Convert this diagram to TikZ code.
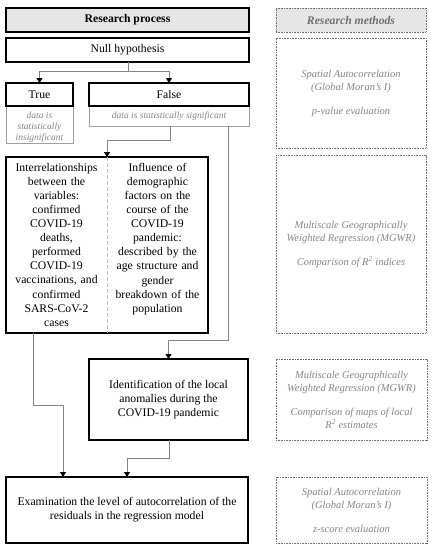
\documentclass[tikz,border=0pt]{standalone}
\usepackage{fontspec}
\setmainfont{Liberation Serif}
\usetikzlibrary{arrows.meta}
\definecolor{conngray}{HTML}{858585}
\definecolor{subgray}{HTML}{A0A0A0}
\definecolor{txtgray}{HTML}{858585}
\definecolor{dotgray}{HTML}{707070}
\definecolor{hdrfill}{HTML}{E6E6E6}
\begin{document}
\begin{tikzpicture}[x=1pt,y=-1pt,
  base/.style={rectangle, inner sep=0pt, outer sep=0pt, align=center},
  mainbox/.style={base, draw=black, line width=1.2pt, font=\fontsize{11.7}{14.1}\selectfont},
  subbox/.style={base, draw=subgray, line width=0.8pt},
  gtext/.style={base, text=txtgray, font=\fontsize{9.5}{11}\selectfont\itshape},
  methbox/.style={base, draw=dotgray, line width=0.8pt, dash pattern=on 0.8pt off 0.8pt, text=txtgray, font=\fontsize{10.5}{13}\selectfont\itshape},
  bigtext/.style={base, anchor=north, text width=100pt, font=\fontsize{11.7}{14.1}\selectfont},
  conn/.style={draw=conngray, line width=0.8pt},
  arr/.style={conn, -{Triangle[length=5pt,width=6pt,color=black]}}
]
\useasboundingbox (0,0) rectangle (432,550);

% left column
\node[mainbox, fill=hdrfill, minimum width=243pt, minimum height=24pt, font=\fontsize{11.7}{14.1}\selectfont\bfseries] (rp) at (127.5,20) {Research process};
\node[mainbox, minimum width=243pt, minimum height=24pt] (null) at (127.5,50) {Null hypothesis};

\node[subbox, minimum width=67pt, minimum height=37pt] (tsub) at (39.5,124.5) {};
\node[gtext] (ttxt) at (39.5,127.5) {data is\\statistically\\insignificant};
\node[mainbox, minimum width=67pt, minimum height=23pt] (true) at (39.5,94.5) {True};

\node[subbox, minimum width=160pt, minimum height=20pt] (fsub) at (169,116) {};
\node[gtext] (ftxt) at (169,116.5) {data is statistically significant};
\node[mainbox, minimum width=160pt, minimum height=23pt] (false) at (169,94.5) {False};

\node[mainbox, line width=1.5pt, minimum width=202pt, minimum height=176pt] (big) at (107,245) {};
\draw[draw=black!25, line width=0.8pt, dash pattern=on 4pt off 2pt] (big.north) -- (big.south);
\node[bigtext] (ltxt) at (56.5,163) {Interrelationships\\between the\\variables:\\confirmed\\COVID-19\\deaths,\\performed\\COVID-19\\vaccinations, and\\confirmed\\SARS-CoV-2\\cases};
\node[bigtext] (rtxt) at (157.5,163) {Influence of\\demographic\\factors on the\\course of the\\COVID-19\\pandemic:\\described by the\\age structure and\\gender\\breakdown of the\\population};

\node[mainbox, minimum width=159pt, minimum height=81pt] (ident) at (168.5,399.5) {Identification of the local\\anomalies during the\\COVID-19 pandemic};
\node[mainbox, minimum width=242pt, minimum height=66pt] (exam) at (127,510) {Examination the level of autocorrelation of the\\residuals in the regression model};

% connectors
\coordinate (j1) at (128,71);
\draw[conn] (null.south -| j1) -- (j1);
\draw[arr] (j1) -| (true.north);
\draw[arr] (j1) -| (false.north);

\coordinate (c1) at (170,140);
\draw[arr] (fsub.south -| c1) -- (c1) -| (big.north);

\coordinate (c2) at (228,340);
\draw[arr] (fsub.south -| c2) -- (c2) -| (ident.north);

\coordinate (c3) at (33,405);
\coordinate (c4) at (63,405);
\draw[arr] (big.south -| c3) -- (c3) -- (c4) -- (c4 |- exam.north);

\coordinate (c5) at (169,458);
\draw[arr] (ident.south -| c5) -- (c5) -| (exam.north);

% right column
\node[methbox, fill=hdrfill, text=dotgray, minimum width=150pt, minimum height=24pt, font=\fontsize{11.7}{14.1}\selectfont\bfseries\itshape] (rm) at (351,20) {Research methods};
\node[methbox, minimum width=150pt, minimum height=110pt] (m1) at (351,93) {Spatial Autocorrelation\\(Global Moran's I)\\[11pt]p-value evaluation};
\node[methbox, minimum width=150pt, minimum height=178pt] (m2) at (351,244) {Multiscale Geographically\\Weighted Regression (MGWR)\\[11pt]Comparison of R\textsuperscript{2} indices};
\node[methbox, minimum width=151pt, minimum height=81pt] (m3) at (351.5,399.5) {Multiscale Geographically\\Weighted Regression (MGWR)\\[11pt]Comparison of maps of local\\R\textsuperscript{2} estimates};
\node[methbox, minimum width=151pt, minimum height=66pt] (m4) at (351.5,510) {Spatial Autocorrelation\\(Global Moran's I)\\[11pt]z-score evaluation};
\end{tikzpicture}
\end{document}
